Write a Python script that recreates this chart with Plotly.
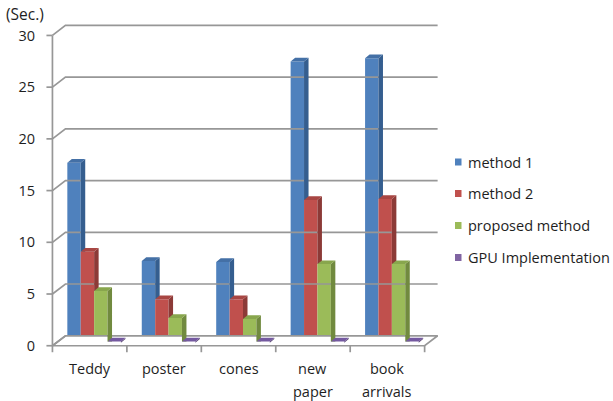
import plotly.graph_objects as go

# ---- data -------------------------------------------------------------
categories = ["Teddy", "poster", "cones", "new\npaper", "book\narrivals"]
series_names = ["method 1", "method 2", "proposed method", "GPU Implementation"]
method1 = [17.4, 7.9, 7.8, 27.2, 27.5]
method2 = [8.8, 4.2, 4.2, 13.8, 13.9]
proposed = [5.0, 2.4, 2.3, 7.6, 7.6]
gpu = [0.12, 0.12, 0.12, 0.12, 0.12]
y_ticks = [0, 5, 10, 15, 20, 25, 30]
unit_label = "(Sec.)"

series_values = [method1, method2, proposed, gpu]

# face colours per series: front, right side, top
front_colors = ["#4F81BD", "#C0504D", "#9BBB59", "#8064A2"]
side_colors = ["#355E8F", "#8C3A37", "#718A3F", "#5C4878"]
top_colors = ["#4470A6", "#A84643", "#88A64D", "#7459A0"]

# ---- geometry of the pseudo-3D box (data units) -----------------------
L, R, T, B = 45, 172, 22, 47
W, H = 613, 401
X_RANGE = [-0.6, 4.72]
Y_RANGE = [-0.8, 31.3]
px_per_x = (W - L - R) / (X_RANGE[1] - X_RANGE[0])
px_per_y = (H - T - B) / (Y_RANGE[1] - Y_RANGE[0])

DX = 13 / px_per_x          # wall depth, horizontal
DY = 10 / px_per_y          # wall depth, vertical
BAR_W = 0.18
BAR_START = -0.30
BAR_BASE = 3 / px_per_y     # bars stand a little behind the front edge
BAR_DX = 4.5 / px_per_x
BAR_DY = 3.7 / px_per_y

x_left = -0.5
x_right = len(categories) - 0.5
grid_color = "#979797"
text_color = "#1E1E1E"
font_family = "'Open Sans', Lato, sans-serif"
font_size = 14.5

fig = go.Figure()


def add_line(xs, ys, color=grid_color, width=1.7):
    fig.add_trace(go.Scatter(x=xs, y=ys, mode="lines",
                             line=dict(color=color, width=width),
                             hoverinfo="skip", showlegend=False))


# floor (white) and its outline
fig.add_trace(go.Scatter(
    x=[x_left, x_right, x_right + DX, x_left + DX, x_left],
    y=[0, 0, DY, DY, 0], mode="lines", fill="toself",
    fillcolor="white", line=dict(color=grid_color, width=1.7),
    hoverinfo="skip", showlegend=False))

# back-wall gridlines with their diagonal on the side wall
gx, gy = [], []
for v in y_ticks:
    gx += [x_left, x_left + DX, x_right + DX, None]
    gy += [v, v + DY, v + DY, None]
add_line(gx, gy)

# front value axis with tick marks
add_line([x_left, x_left], [0, y_ticks[-1]])
tx, ty = [], []
for v in y_ticks:
    tx += [x_left - 6 / px_per_x, x_left, None]
    ty += [v, v, None]
add_line(tx, ty)

# category axis tick marks
cx, cy = [], []
for k in range(len(categories) + 1):
    xb = x_left + k
    cx += [xb, xb, None]
    cy += [0, -6.5 / px_per_y, None]
add_line(cx, cy)

# ---- bars: front face, right side, top --------------------------------
n_series = len(series_values)
for j, vals in enumerate(series_values):
    xs_center = [i + BAR_START + j * BAR_W + BAR_W / 2 for i in range(len(categories))]
    fig.add_trace(go.Bar(
        x=xs_center, y=vals, base=[BAR_BASE] * len(vals), width=BAR_W,
        marker=dict(color=front_colors[j], line=dict(width=0)),
        name=series_names[j], showlegend=False, hoverinfo="skip"))

    sx, sy, tx2, ty2 = [], [], [], []
    for i, (xc, v) in enumerate(zip(xs_center, vals)):
        x0 = xc - BAR_W / 2
        x1 = xc + BAR_W / 2
        y0 = BAR_BASE
        y1 = BAR_BASE + v
        # the neighbouring bar's front hides the lower part of this side face
        if j + 1 < n_series:
            yc = min(BAR_BASE + series_values[j + 1][i], y1)
            sx += [x1, x1 + BAR_DX, x1 + BAR_DX, x1, x1, None]
            sy += [yc, yc, y1 + BAR_DY, y1, yc, None]
        else:
            sx += [x1, x1 + BAR_DX, x1 + BAR_DX, x1, x1, None]
            sy += [y0, y0 + BAR_DY, y1 + BAR_DY, y1, y0, None]
        tx2 += [x0, x1, x1 + BAR_DX, x0 + BAR_DX, x0, None]
        ty2 += [y1, y1, y1 + BAR_DY, y1 + BAR_DY, y1, None]
    fig.add_trace(go.Scatter(x=sx, y=sy, mode="lines", fill="toself",
                             fillcolor=side_colors[j], line=dict(width=0),
                             hoverinfo="skip", showlegend=False))
    fig.add_trace(go.Scatter(x=tx2, y=ty2, mode="lines", fill="toself",
                             fillcolor=top_colors[j], line=dict(width=0),
                             hoverinfo="skip", showlegend=False))

# ---- text -------------------------------------------------------------
def paper_x(px):
    return (px - L) / (W - L - R)


def paper_y(py):
    return (H - B - py) / (H - T - B)


label_font = dict(size=font_size, color=text_color, family=font_family)
annotations = []
for i, label in enumerate(categories):
    for k, line in enumerate(label.split("\n")):
        annotations.append(dict(
            x=i, xref="x", y=paper_y(369 + k * 22.5), yref="paper",
            text=line, showarrow=False, xanchor="center", yanchor="middle",
            font=label_font))

annotations.append(dict(
    x=paper_x(5), xref="paper", y=paper_y(14.5), yref="paper",
    text=unit_label, showarrow=False, xanchor="left", yanchor="middle",
    borderpad=0,
    font=dict(size=15.5, color=text_color, family=font_family)))

# legend drawn as swatches plus labels
shapes = []
legend_y = [162, 193.5, 225.5, 257.5]
for j, name in enumerate(series_names):
    cy_px = legend_y[j]
    shapes.append(dict(type="rect", xref="paper", yref="paper",
                       x0=paper_x(455), x1=paper_x(461.5),
                       y0=paper_y(cy_px + 3.5), y1=paper_y(cy_px - 3.5),
                       fillcolor=front_colors[j], line=dict(width=0)))
    annotations.append(dict(
        x=paper_x(466), xref="paper", y=paper_y(cy_px), yref="paper",
        text=name, showarrow=False, xanchor="left", yanchor="middle",
        font=label_font))

fig.update_layout(
    width=W, height=H,
    margin=dict(l=L, r=R, t=T, b=B),
    paper_bgcolor="white", plot_bgcolor="white",
    barmode="overlay", showlegend=False,
    annotations=annotations, shapes=shapes,
    xaxis=dict(range=X_RANGE, showgrid=False, zeroline=False,
               showline=False, showticklabels=False, fixedrange=True),
    yaxis=dict(range=Y_RANGE, showgrid=False, zeroline=False,
               showline=False, tickmode="array", tickvals=y_ticks,
               ticks="", ticklabelstandoff=9,
               tickfont=label_font, fixedrange=True),
)

fig.write_html("out.html")
